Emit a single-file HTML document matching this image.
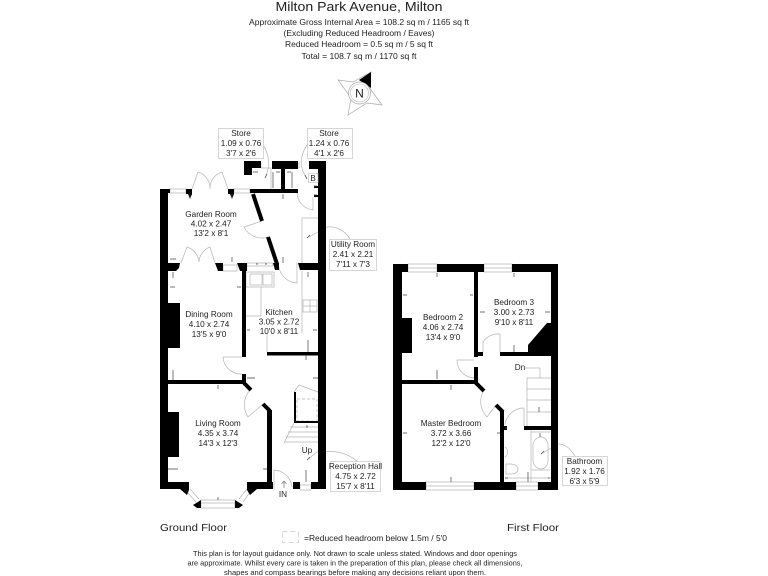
<!DOCTYPE html>
<html><head><meta charset="utf-8">
<style>html,body{margin:0;padding:0;background:#fff}svg{display:block}text{font-family:"Liberation Sans",sans-serif;fill:#222;text-anchor:middle}</style>
</head><body>
<svg xmlns="http://www.w3.org/2000/svg" width="768" height="576" viewBox="0 0 768 576">
<!-- Header -->
<text x="359" y="11" font-size="13" textLength="167" lengthAdjust="spacingAndGlyphs">Milton Park Avenue, Milton</text>
<g font-size="8.2">
<text x="359" y="25" textLength="220" lengthAdjust="spacingAndGlyphs">Approximate Gross Internal Area = 108.2 sq m / 1165 sq ft</text>
<text x="359" y="36" textLength="151" lengthAdjust="spacingAndGlyphs">(Excluding Reduced Headroom / Eaves)</text>
<text x="359" y="47" textLength="148" lengthAdjust="spacingAndGlyphs">Reduced Headroom = 0.5 sq m / 5 sq ft</text>
<text x="359" y="59" textLength="115" lengthAdjust="spacingAndGlyphs">Total = 108.7 sq m / 1170 sq ft</text>
</g>
<!-- Compass -->
<path d="M338 80L353 82L371 72L369 87L382 105L367 103L348 115L351 98Z" fill="#fff" stroke="#aaa" stroke-width=".7"/>
<path d="M371 72L359 80L371 88Z" fill="#000"/>
<circle cx="359.500" cy="93" r="11" fill="#fff" stroke="#aaa" stroke-width=".7"/>
<circle cx="359.500" cy="93" r="9" fill="none" stroke="#bbb" stroke-width=".6"/>
<text x="359.500" y="97.500" font-size="12">N</text>

<!-- Thin gray fixtures -->
<g fill="none" stroke="#b5b5b5" stroke-width=".7">
<!-- Ground windows -->
<path d="M170 189h16v4h-16zM234 189h16v4h-16zM223 265h14v6h-14zM247 263h26v3h-26zM300 485h11v5h-11zM201 500h34v8h-34zM201 503h34M187 492l9 10M190 489l9 10M250 492l-7 10M247 489l-8 10"/>
<path d="M261 162v6M299 162v6"/>
<!-- French doors -->
<path d="M192 189L198 172A17 17 0 0 1 210 189A17 17 0 0 1 222 172L228 189"/>
<path d="M181 263L187 247A17 17 0 0 1 199 262A17 17 0 0 1 210 247L215 263"/>
<!-- Doors -->
<path d="M261 168L271 168V190"/>
<path d="M297 193A18 18 0 0 0 313 210V197"/>
<path d="M262 221L244 227A20 20 0 0 0 268 237"/>
<path d="M279 267A19 19 0 0 0 297 283V263"/>
<path d="M242 357H223A18 18 0 0 0 242 374"/>
<path d="M250 390A22 22 0 0 0 248 417L263 404"/>
<path d="M274 489V470A19 19 0 0 1 292 487"/>
<!-- Leaders -->
<path d="M263 145C270 155 270 168 265 178M307 145C300 155 299 168 307 179M350 239C345 230 335 226 327 227L307 238M358 462C345 450 330 451 317 452L307 460"/>
<!-- Utility / kitchen counters -->
<path d="M302 218H318M302 218V263M302 271V333M246 272h28v15h-28zM250 274h12v11h-12zM263 274h9v11h-9zM261 287V316H246M267 333V352"/>
<path d="M303 300h14v12h-14zM303 306h14M310 300v12"/>
<!-- Hall stairs / cupboard -->
<path d="M299 385L294 392M299 385L318 392"/>
<path stroke-dasharray="3 2" d="M297 399h20v22h-20z"/>
<path d="M290 427H318M288 432H318M286 437H318M284 442H318M294 423L284 443"/>
<!-- First floor windows -->
<path d="M408 264h29v8h-29zM484 264h28v8h-28zM426 482h48v8h-48zM516 482h22v8h-22zM408 268h29M484 268h28M426 486h48M516 486h22"/>
<!-- First floor doors -->
<path d="M483 352V342A18 18 0 0 1 500 334V352"/>
<path d="M474 360H457A18 18 0 0 0 474 378"/>
<path d="M484 390A22 22 0 0 0 487 417L496 405"/>
<path d="M505 425A19 19 0 0 1 524 408V426"/>
<!-- Stairs -->
<path d="M525 368H540V378M527 378V426M527 378H551M527 389H551M527 400H551M527 412H551"/>
<!-- Bath -->
<path d="M531 430V482M531 432H550M531 470H550M533 445C533 440 538 437 541 437C545 437 548 441 548 445V460C548 465 545 469 541 469C537 469 533 465 533 460Z"/>
<path d="M505 478H551M575 456C570 448 565 444 558 444L541 454"/>
<path d="M505 447A6 6 0 0 1 505 457"/>
<path d="M506 464H510C516 464 518 467 518 469C518 472 516 474 510 474H506Z"/>
</g>

<!-- Label boxes -->
<g fill="#fff" stroke="#ccc" stroke-width=".8">
<rect x="218.500" y="128.500" width="45" height="30"/>
<rect x="307.500" y="128.500" width="45" height="30"/>
<rect x="329.500" y="239.500" width="47" height="31"/>
<rect x="330.500" y="461.500" width="50" height="30"/>
<rect x="562.500" y="456.500" width="45" height="29"/>
</g>

<!-- Walls -->
<g fill="#000">
<!-- Ground -->
<rect x="160" y="189" width="8" height="300"/>
<rect x="160" y="189" width="10" height="4"/>
<path d="M186 189H192V194L190 199L188 194H186Z"/>
<path d="M228 189H234V194L232 199L230 194H228Z"/>
<rect x="250" y="189" width="48" height="4"/>
<rect x="244" y="161" width="17" height="7"/>
<rect x="244" y="161" width="8" height="14"/>
<rect x="272" y="161" width="26" height="8"/>
<rect x="281" y="161" width="4" height="30"/>
<rect x="309" y="161" width="17" height="8"/>
<rect x="318" y="161" width="8" height="328"/>
<rect x="314" y="186" width="4" height="2"/>
<rect x="314" y="195" width="4" height="2"/>
<path d="M160 263H180L179 268L176 271H160Z"/>
<path d="M215 263H223V271H218Z"/>
<path d="M237 263H247V271H240Z"/>
<path d="M273 263H279V270H275Z"/>
<path d="M298 263H318V270H300Z"/>
<rect x="242" y="271" width="4" height="86"/>
<rect x="242" y="374" width="4" height="10"/>
<rect x="168" y="303" width="12" height="45"/>
<rect x="168" y="380" width="76" height="4"/>
<rect x="168" y="412" width="11" height="45"/>
<rect x="267" y="352" width="51" height="3.500"/>
<rect x="267" y="410" width="5" height="73"/>
<rect x="294" y="392" width="2" height="31"/>
<rect x="294" y="421" width="24" height="2"/>
<path d="M160 482H189V490L187 495L180 489H160Z"/>
<path d="M247 482H273V489H257L250 495L247 490Z"/>
<path d="M293 482H300V485H300V489H293Z"/>
<rect x="311" y="482" width="15" height="7"/>
<path d="M193 505L201 500V508H197Z"/>
<path d="M235 500L243 505L239 508H235Z"/>
<!-- First -->
<rect x="393" y="264" width="15" height="8"/>
<rect x="437" y="264" width="47" height="8"/>
<rect x="512" y="264" width="46" height="8"/>
<rect x="393" y="264" width="9" height="226"/>
<rect x="551" y="264" width="7" height="226"/>
<rect x="393" y="482" width="33" height="8"/>
<rect x="474" y="482" width="42" height="8"/>
<rect x="538" y="482" width="20" height="8"/>
<rect x="402" y="318" width="10" height="35"/>
<rect x="474" y="272" width="4" height="85"/>
<rect x="474" y="352" width="9" height="4"/>
<rect x="474" y="367" width="4" height="17"/>
<rect x="402" y="380" width="74" height="4"/>
<rect x="500" y="352" width="51" height="4"/>
<path d="M528 345L547 323H551V352H528Z"/>
<rect x="500" y="411" width="4" height="71"/>
<rect x="500" y="426" width="7" height="4"/>
<rect x="524" y="426" width="27" height="4"/>
</g>
<!-- Diagonal walls -->
<g stroke="#000" stroke-width="4" fill="none">
<path d="M253 194L262 221M268 237L277 264M244 383L251 390M263 404L270 411M475 382L484 391M496 405L503 412"/>
</g>

<!-- Dimension arrows -->
<g fill="none" stroke="#444" stroke-width=".7">
<path d="M190 194v4M232 194v4M170 259h6M173 272v6M170 287h5M237 287h4M232 257v5M256 264h2M265 264h2M283 194v5M283 257v6M253 172h5M273 172v16M276 172h4M292 172v16M287 172h4M314 186h3M314 195h3M308 272v5"/>
<path d="M265 178l2-4M307 179l-2-4M307 238l3-3M307 460l3-3"/>
<path d="M173 370v10M218 385v4M247 330h3M313 330h4M308 340v12M306 355v5M247 378h8M313 378h5M307 425v3M168 469h10M263 469h4M218 497v3M306 470v12"/>
<path d="M437 273v4M403 295h4M470 295h3M437 370v9M514 273v4M480 312h5M545 312h5M514 345v7M451 385v5M403 433h4M497 433h3M451 477v5M505 428h2M539 407v5M540 433v4M541 454l3-3M528 472v10M505 478h3M548 478h2"/>
</g>
<path d="M284 488V481M281.500 484L284 481L286.500 484" fill="none" stroke="#777" stroke-width=".7"/>

<!-- Room labels -->
<g font-size="8.2">
<text x="241" y="136">Store</text><text x="241" y="146">1.09 x 0.76</text><text x="241" y="156">3'7 x 2'6</text>
<text x="329" y="136">Store</text><text x="329" y="146">1.24 x 0.76</text><text x="329" y="156">4'1 x 2'6</text>
<text x="353" y="247">Utility Room</text><text x="353" y="257">2.41 x 2.21</text><text x="353" y="267">7'11 x 7'3</text>
<text x="355.500" y="469">Reception Hall</text><text x="355.500" y="479">4.75 x 2.72</text><text x="355.500" y="489">15'7 x 8'11</text>
<text x="584.500" y="464">Bathroom</text><text x="584.500" y="474">1.92 x 1.76</text><text x="584.500" y="484">6'3 x 5'9</text>
<text x="211" y="217">Garden Room</text><text x="211" y="226.500">4.02 x 2.47</text><text x="211" y="236">13'2 x 8'1</text>
<text x="209" y="317">Dining Room</text><text x="209" y="327">4.10 x 2.74</text><text x="209" y="337">13'5 x 9'0</text>
<text x="279" y="315">Kitchen</text><text x="279" y="324.500">3.05 x 2.72</text><text x="279" y="334">10'0 x 8'11</text>
<text x="218" y="426">Living Room</text><text x="218" y="436">4.35 x 3.74</text><text x="218" y="446">14'3 x 12'3</text>
<text x="443" y="320">Bedroom 2</text><text x="443" y="330">4.06 x 2.74</text><text x="443" y="340">13'4 x 9'0</text>
<text x="514" y="305">Bedroom 3</text><text x="514" y="315">3.00 x 2.73</text><text x="514" y="325">9'10 x 8'11</text>
<text x="451" y="426">Master Bedroom</text><text x="451" y="436">3.72 x 3.66</text><text x="451" y="446">12'2 x 12'0</text>
<text x="307" y="453">Up</text><text x="283" y="497">IN</text><text x="520" y="370">Dn</text>
</g>
<!-- Footer -->
<text x="193.500" y="531" font-size="10.500" textLength="67" lengthAdjust="spacingAndGlyphs">Ground Floor</text>
<text x="533" y="531" font-size="10.500" textLength="52" lengthAdjust="spacingAndGlyphs">First Floor</text>
<rect x="282.500" y="531.500" width="16" height="11" fill="none" stroke="#ccc" stroke-width=".7" stroke-dasharray="5 3"/>
<text x="375.500" y="541" font-size="8.2" textLength="143" lengthAdjust="spacingAndGlyphs">=Reduced headroom below 1.5m / 5'0</text>
<g font-size="7.500">
<text x="355" y="556" textLength="324" lengthAdjust="spacingAndGlyphs">This plan is for layout guidance only. Not drawn to scale unless stated. Windows and door openings</text>
<text x="355" y="565.500" textLength="335" lengthAdjust="spacingAndGlyphs">are approximate. Whilst every care is taken in the preparation of this plan, please check all dimensions,</text>
<text x="355" y="575" textLength="262" lengthAdjust="spacingAndGlyphs">shapes and compass bearings before making any decisions reliant upon them.</text>
</g>
<!-- Boiler -->
<rect x="308.500" y="173.500" width="9.500" height="9" fill="#fff" stroke="#bbb" stroke-width=".6"/>
<text x="313" y="181" font-size="8">B</text>
</svg>
</body></html>
